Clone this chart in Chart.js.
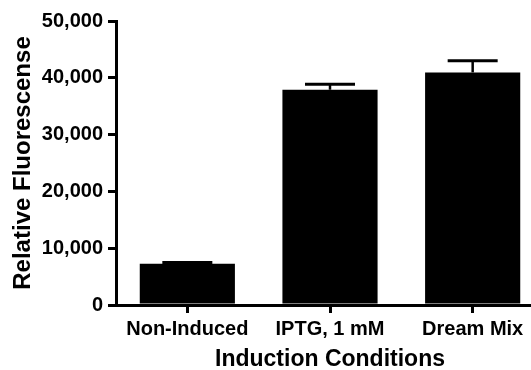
<!DOCTYPE html>
<html>
<head>
<meta charset="utf-8">
<script src="https://cdn.jsdelivr.net/npm/chart.js@4.4.1/dist/chart.umd.min.js"></script>
<style>
  html, body { margin: 0; padding: 0; background: #fff; overflow: hidden; }
  /* the plot runs off the right edge in the original, so the canvas is a bit wider than the window */
  #wrap { width: 544px; height: 370px; }
</style>
</head>
<body>
<div id="wrap"><canvas id="barchart"></canvas></div>
<script>
// values
const conditions = ['Non-Induced', 'IPTG, 1 mM', 'Dream Mix'];
const fluorescence = [7250, 37900, 40950];
const errorUp = [250, 950, 2050];
const yTicks = [0, 10000, 20000, 30000, 40000, 50000];

const FONT = 'Liberation Sans, Arial, sans-serif';

// draws the upper error whiskers with caps on top of each bar
const errorBars = {
  id: 'errorBars',
  afterDatasetsDraw(chart) {
    const ctx = chart.ctx;
    const yScale = chart.scales.y;
    const meta = chart.getDatasetMeta(0);
    ctx.save();
    ctx.strokeStyle = '#000';
    meta.data.forEach((bar, i) => {
      const top = yScale.getPixelForValue(fluorescence[i] + errorUp[i]);
      ctx.lineWidth = 2.5;
      ctx.beginPath();
      ctx.moveTo(bar.x, bar.y);
      ctx.lineTo(bar.x, top);
      ctx.stroke();
      ctx.lineWidth = 3;
      ctx.beginPath();
      ctx.moveTo(bar.x - 25, top);
      ctx.lineTo(bar.x + 25, top);
      ctx.stroke();
    });
    ctx.restore();
  }
};

new Chart(document.getElementById('barchart'), {
  type: 'bar',
  data: {
    labels: conditions,
    datasets: [{
      label: 'Relative Fluorescense',
      data: fluorescence,
      backgroundColor: '#000',
      borderWidth: 0,
      barPercentage: 0.667,
      categoryPercentage: 1.0
    }]
  },
  options: {
    responsive: true,
    maintainAspectRatio: false,
    animation: false,
    layout: { padding: { left: 0, top: 21, right: 0, bottom: 0 } },
    plugins: {
      legend: { display: false },
      tooltip: { enabled: false }
    },
    scales: {
      x: {
        afterFit(scale) { scale.height = 65; },
        grid: {
          offset: false,
          drawOnChartArea: false,
          drawTicks: true,
          tickLength: 8,
          color: '#000',
          lineWidth: 3
        },
        border: { display: true, color: '#000', width: 3 },
        ticks: {
          color: '#000',
          padding: 4,
          maxRotation: 0,
          autoSkip: false,
          font: { family: FONT, size: 20, weight: 'bold' }
        },
        title: {
          display: true,
          text: 'Induction Conditions',
          color: '#000',
          padding: { top: 0, bottom: -1 },
          font: { family: FONT, size: 23, weight: 'bold', lineHeight: 1 }
        }
      },
      y: {
        min: yTicks[0],
        max: yTicks[yTicks.length - 1],
        afterFit(scale) { scale.width = 116; },
        afterBuildTicks(scale) { scale.ticks = yTicks.map(v => ({ value: v })); },
        grid: {
          drawOnChartArea: false,
          drawTicks: true,
          tickLength: 8,
          color: '#000',
          lineWidth: 3
        },
        border: { display: true, color: '#000', width: 3 },
        ticks: {
          color: '#000',
          padding: 5,
          font: { family: FONT, size: 20, weight: 'bold' }
        },
        title: {
          display: true,
          text: 'Relative Fluorescense',
          color: '#000',
          padding: { top: 9, bottom: 0 },
          font: { family: FONT, size: 24, weight: 'bold' }
        }
      }
    }
  },
  plugins: [errorBars]
});
</script>
</body>
</html>
